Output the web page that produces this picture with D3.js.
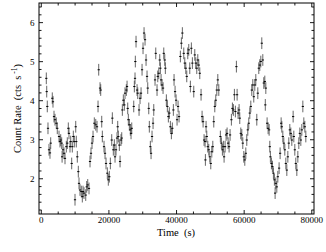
<!DOCTYPE html>
<html>
<head>
<meta charset="utf-8">
<script src="https://cdn.jsdelivr.net/npm/d3@7"></script>
<style>
  body { margin: 0; background: #fff; }
  svg { display: block; }
  text { font-family: "Liberation Serif", "Times New Roman", serif; fill: #000; }
</style>
</head>
<body>
<script>
var width = 326,
    height = 252,
    margin = {top: 3, right: 12, bottom: 38, left: 39};

// light curve, time in s, rate in cts/s
var times = [
  1630, 1750, 1920, 2130, 2430, 2720, 2930, 3400, 3610, 3910,
  4200, 4590, 4880, 5390, 5680, 5890, 6180, 6300, 6570, 6860,
  7160, 7550, 7840, 8140, 8340, 8640, 8850, 9140, 9320, 9620,
  9910, 10120, 10330, 10500, 10800, 11100, 11300, 11600, 11980, 12280,
  12490, 12780, 13290, 13580, 13880, 14260, 14560, 14850, 15150, 15450,
  15830, 16250, 16630, 16930, 17130, 17520, 17720, 18020, 18200, 18700,
  19000, 19290, 19680, 19970, 20270, 20570, 20980, 21160, 21450, 21750,
  21960, 22250, 22550, 22750, 22930, 23230, 23440, 23730, 23940, 24120,
  24410, 24710, 24910, 25300, 25510, 25710, 25890, 26190, 26480, 26690,
  26900, 27490, 27670, 27870, 27960, 28170, 28470, 28670, 29060, 29350,
  29650, 29950, 30240, 30540, 30830, 31130, 31420, 31630, 31930, 32100,
  32400, 32610, 32900, 33200, 33410, 33790, 34000, 34380, 34590, 34890,
  35180, 35360, 35570, 35860, 36160, 36370, 36660, 36840, 37140, 37430,
  37730, 38020, 38320, 38620, 38910, 39210, 39410, 39710, 40010, 40300,
  40600, 40890, 41280, 41580, 41870, 42280, 42580, 42880, 43170, 43470,
  43760, 44060, 44240, 44530, 44830, 45240, 45540, 45830, 46130, 46430,
  46720, 47020, 47400, 47700, 48000, 48290, 48590, 48680, 48880, 49090,
  49390, 49680, 49980, 50270, 50570, 50870, 51160, 51460, 51750, 52050,
  52350, 52640, 53110, 53410, 53710, 54000, 54210, 54510, 54800, 55100,
  55390, 55690, 55980, 56370, 56670, 56960, 57260, 57550, 57850, 58060,
  58350, 58650, 58850, 59150, 59450, 59740, 60040, 60330, 60630, 60920,
  61220, 61510, 61810, 62110, 62400, 62700, 62990, 63290, 63590, 63880,
  64180, 64470, 64770, 65070, 65360, 65660, 65950, 66250, 66400, 66550,
  66930, 67230, 67530, 67730, 67900, 68210, 68500, 68800, 69090, 69300,
  69510, 69800, 70100, 70480, 70780, 71080, 71280, 71580, 71870, 72170,
  72470, 72760, 73060, 73350, 73650, 73950, 74240, 74630, 74830, 75130,
  75420, 75720, 76020, 76310, 76610, 76900, 77200, 77500, 77790, 78090,
  78380
];
var rates = [
  4.56, 4.22, 3.84, 3.28, 2.73, 2.65, 2.90, 4.05, 3.96, 3.58,
  3.50, 3.41, 3.28, 3.07, 2.94, 2.98, 2.90, 2.55, 2.73, 2.64,
  2.51, 2.81, 2.90, 3.28, 3.15, 2.81, 2.94, 2.38, 2.81, 3.07,
  2.94, 1.45, 3.32, 2.94, 2.55, 2.17, 1.87, 1.70, 1.66, 1.53,
  1.66, 1.62, 1.57, 1.78, 1.83, 1.74, 2.43, 2.64, 2.90, 3.07,
  3.41, 3.37, 3.32, 3.84, 4.78, 4.31, 4.26, 3.45, 3.07, 2.81,
  2.64, 2.38, 2.13, 1.96, 2.04, 2.38, 2.98, 3.54, 2.73, 2.85,
  2.55, 2.73, 3.03, 3.32, 3.07, 2.85, 2.43, 2.98, 3.03, 3.75,
  4.00, 3.88, 4.18, 4.26, 4.35, 3.79, 3.50, 3.37, 3.24, 3.15,
  3.28, 3.84, 4.35, 4.56, 4.99, 5.50, 4.26, 4.18, 3.75, 4.05,
  4.18, 4.78, 5.33, 5.72, 5.55, 5.03, 4.61, 4.31, 3.79, 3.32,
  2.81, 2.64, 3.07, 3.41, 3.75, 4.52, 5.20, 4.26, 4.61, 4.69,
  5.03, 4.82, 4.52, 4.39, 4.31, 5.20, 5.03, 4.82, 4.00, 3.84,
  3.58, 3.67, 3.32, 3.15, 3.28, 3.75, 4.52, 4.22, 4.00, 3.50,
  3.84, 3.58, 5.12, 5.46, 5.72, 5.20, 4.95, 4.82, 4.61, 5.20,
  5.29, 4.82, 4.35, 5.33, 4.95, 4.22, 5.16, 4.95, 4.82, 5.03,
  4.90, 4.69, 4.14, 3.58, 3.45, 2.98, 2.94, 2.47, 3.32, 3.07,
  2.81, 2.73, 2.55, 2.38, 2.68, 2.81, 3.45, 3.84, 4.00, 4.26,
  4.52, 4.26, 3.07, 2.90, 2.73, 2.81, 2.55, 2.81, 3.11, 3.15,
  2.90, 2.81, 3.11, 3.50, 3.79, 3.75, 4.14, 3.71, 4.86, 4.14,
  3.67, 3.75, 3.54, 3.15, 3.11, 2.90, 2.55, 2.47, 2.64, 2.98,
  3.24, 3.41, 3.67, 3.84, 4.26, 4.39, 4.09, 4.39, 4.52, 3.50,
  4.18, 4.82, 4.90, 4.99, 5.46, 5.03, 4.44, 4.48, 3.88, 4.31,
  3.41, 3.28, 3.24, 2.81, 2.55, 2.38, 2.30, 2.13, 1.96, 1.62,
  1.87, 1.78, 2.04, 2.26, 2.64, 3.41, 3.32, 3.07, 2.90, 2.73,
  2.38, 2.21, 2.55, 2.90, 3.24, 3.15, 2.98, 3.58, 3.07, 2.73,
  2.38, 2.21, 2.55, 2.90, 3.15, 2.98, 3.24, 3.84, 3.41, 3.32,
  3.07
];
var rateErr = 0.15,   // typical 1-sigma error on the rate
    timeErr = 150;    // half bin width

var xTicks = [0, 20000, 40000, 60000, 80000];
var yTicks = [2, 3, 4, 5, 6];

var x = d3.scaleLinear()
    .domain([-530, 80800])
    .range([margin.left, width - margin.right]);

var y = d3.scaleLinear()
    .domain([1.085, 6.49])
    .range([height - margin.bottom, margin.top]);

var svg = d3.select("body").append("svg")
    .attr("width", width)
    .attr("height", height);

var data = times.map(function (t, i) { return {t: t, r: rates[i]}; });

// points with error bars
var pts = svg.append("g").attr("class", "points");

pts.selectAll("line.ey")
    .data(data)
    .enter().append("line")
    .attr("class", "ey")
    .attr("x1", function (d) { return x(d.t); })
    .attr("x2", function (d) { return x(d.t); })
    .attr("y1", function (d) { return y(d.r - rateErr); })
    .attr("y2", function (d) { return y(d.r + rateErr); })
    .attr("stroke", "#555")
    .attr("stroke-width", 0.9);

pts.selectAll("line.ex")
    .data(data)
    .enter().append("line")
    .attr("class", "ex")
    .attr("x1", function (d) { return x(d.t - timeErr) - 0.6; })
    .attr("x2", function (d) { return x(d.t + timeErr) + 0.6; })
    .attr("y1", function (d) { return y(d.r); })
    .attr("y2", function (d) { return y(d.r); })
    .attr("stroke", "#000")
    .attr("stroke-width", 1);

// axes, ticks pointing inward on all four sides
var x0 = margin.left, x1 = width - margin.right,
    y0 = height - margin.bottom, y1 = margin.top;

function clean(g) {
    g.select(".domain").remove();
    g.selectAll("line").attr("stroke", "#000").attr("stroke-width", 0.9);
}

var xMinor = d3.range(0, 80001, 5000).filter(function (v) { return xTicks.indexOf(v) < 0; });
var yMinor = d3.range(12, 65, 2).map(function (v) { return v / 10; })
    .filter(function (v) { return yTicks.indexOf(v) < 0; });

svg.append("g")
    .attr("transform", "translate(0," + y0 + ")")
    .call(d3.axisBottom(x).tickValues(xTicks).tickSize(-4).tickPadding(2.5).tickFormat(d3.format("d")))
    .call(clean)
    .selectAll("text").attr("font-size", 9).attr("font-family", "Liberation Serif");

svg.append("g")
    .attr("transform", "translate(0," + y0 + ")")
    .call(d3.axisBottom(x).tickValues(xMinor).tickSize(-2.5).tickFormat(""))
    .call(clean);

svg.append("g")
    .attr("transform", "translate(0," + y1 + ")")
    .call(d3.axisTop(x).tickValues(xTicks).tickSize(-4).tickFormat(""))
    .call(clean);

svg.append("g")
    .attr("transform", "translate(0," + y1 + ")")
    .call(d3.axisTop(x).tickValues(xMinor).tickSize(-2.5).tickFormat(""))
    .call(clean);

svg.append("g")
    .attr("transform", "translate(" + x0 + ",0)")
    .call(d3.axisLeft(y).tickValues(yTicks).tickSize(-4).tickPadding(4.5).tickFormat(d3.format("d")))
    .call(clean)
    .selectAll("text").attr("font-size", 9).attr("font-family", "Liberation Serif");

svg.append("g")
    .attr("transform", "translate(" + x0 + ",0)")
    .call(d3.axisLeft(y).tickValues(yMinor).tickSize(-2.5).tickFormat(""))
    .call(clean);

svg.append("g")
    .attr("transform", "translate(" + x1 + ",0)")
    .call(d3.axisRight(y).tickValues(yTicks).tickSize(-4).tickFormat(""))
    .call(clean);

svg.append("g")
    .attr("transform", "translate(" + x1 + ",0)")
    .call(d3.axisRight(y).tickValues(yMinor).tickSize(-2.5).tickFormat(""))
    .call(clean);

// frame
svg.append("rect")
    .attr("x", x0)
    .attr("y", y1)
    .attr("width", x1 - x0)
    .attr("height", y0 - y1)
    .attr("fill", "none")
    .attr("stroke", "#000")
    .attr("stroke-width", 1);

// axis titles
svg.append("text")
    .attr("x", x(40000))
    .attr("y", 236)
    .attr("text-anchor", "middle")
    .attr("font-size", 10.5)
    .style("white-space", "pre")
    .text("Time  (s)");

var ylab = svg.append("text")
    .attr("transform", "translate(21," + ((y0 + y1) / 2) + ") rotate(-90)")
    .attr("text-anchor", "middle")
    .attr("font-size", 10.5)
    .style("white-space", "pre");
ylab.append("tspan").text("Count Rate  (cts  s");
ylab.append("tspan").attr("dy", -4).attr("font-size", 7.5).text(" -1");
ylab.append("tspan").attr("dy", 4).text(")");
</script>
</body>
</html>
